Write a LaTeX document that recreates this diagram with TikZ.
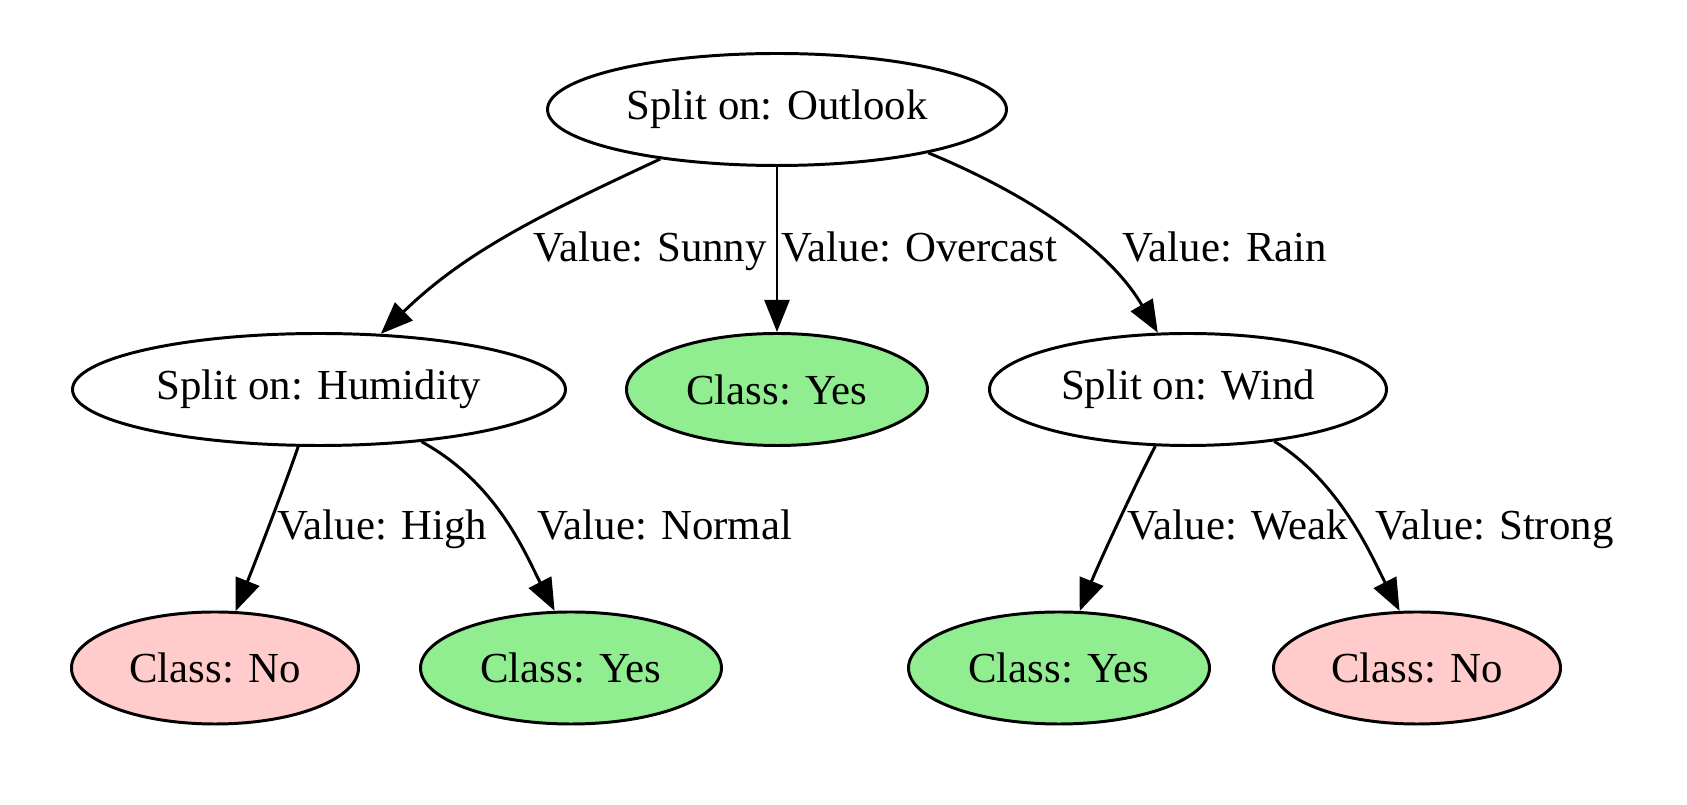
\documentclass[tikz,border=0pt]{standalone}
\usepackage{fontspec}
\setmainfont{Liberation Serif}
\usetikzlibrary{shapes.geometric,arrows.meta}
\definecolor{lgreen}{HTML}{90EE90}
\definecolor{lpink}{HTML}{FFCCCB}
\begin{document}
\begin{tikzpicture}[x=0.32pt,y=-0.32pt,
  every node/.style={font=\fontsize{13.7}{16}\selectfont},
  nd/.style={ellipse,draw,line width=0.95pt,inner sep=0pt,minimum height={112*0.32pt}},
  split/.style={nd,fill=white},
  yesnd/.style={nd,fill=lgreen,minimum width={301*0.32pt}},
  nond/.style={nd,fill=lpink,minimum width={287*0.32pt}},
  edge/.style={line width=0.95pt,-{Triangle[length=10.3pt,width=8pt]}},
  lbl/.style={anchor=base west,inner sep=0pt}]
\useasboundingbox (0,0) rectangle (1687,805);
% nodes
\node[split,minimum width={459*0.32pt}] (out) at (777,109.5) {Split on: Outlook};
\node[split,minimum width={493*0.32pt}] (hum) at (319,389.5) {Split on: Humidity};
\node[yesnd] (yes1) at (777,389.5) {Class: Yes};
\node[split,minimum width={397*0.32pt}] (wind) at (1188,389.5) {Split on: Wind};
\node[nond] (no1) at (215,668) {Class: No};
\node[yesnd] (yes2) at (571,668) {Class: Yes};
\node[yesnd] (yes3) at (1059,668) {Class: Yes};
\node[nond] (no2) at (1417,668) {Class: No};
% edges
\draw[edge] (out.203.8) .. controls (540,215) and (465,252) .. (hum.42.8);
\draw[edge] (out.south) -- (yes1.north);
\draw[edge] (out.-16) .. controls (1030,195) and (1110,250) .. (wind.118);
\draw[edge] (hum.250.3) .. controls (285,485) and (258,555) .. (no1.70);
\draw[edge] (hum.-27.4) .. controls (497,483) and (525,553) .. (yes2.106.2);
\draw[edge] (wind.240.2) .. controls (1135,485) and (1098,565) .. (yes3.70.9);
\draw[edge] (wind.-31.6) .. controls (1340,482) and (1371,555) .. (no2.107.2);
% labels
\node[lbl] (lsunny) at (533,262) {Value: Sunny};
\node[lbl] (lover) at (781,262) {Value: Overcast};
\node[lbl] (lrain) at (1122,262) {Value: Rain};
\node[lbl] (lhigh) at (277,540) {Value: High};
\node[lbl] (lnormal) at (537,540) {Value: Normal};
\node[lbl] (lweak) at (1127,540) {Value: Weak};
\node[lbl] (lstrong) at (1375,540) {Value: Strong};
\end{tikzpicture}
\end{document}
